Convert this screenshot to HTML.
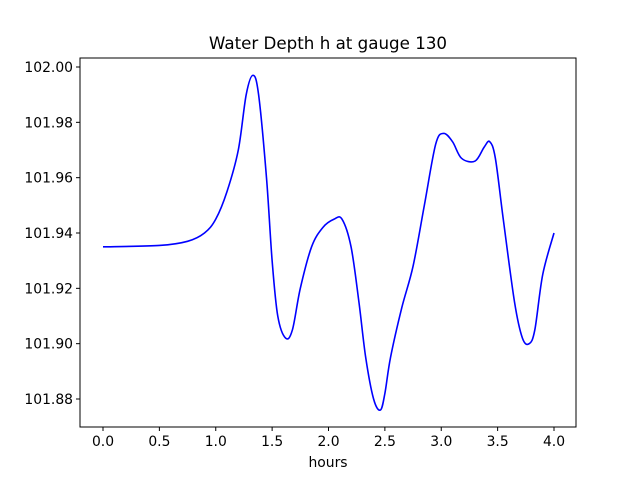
<!DOCTYPE html>
<html><head><meta charset="utf-8"><style>
body{margin:0;background:#fff;}
svg text{font-family:"DejaVu Sans","Liberation Sans",sans-serif;}
</style></head><body>
<svg id="chart" width="640" height="480" xmlns="http://www.w3.org/2000/svg">
<rect width="640" height="480" fill="#fff"/>
<text x="328" y="49" font-size="16.7" text-anchor="middle">Water Depth h at gauge 130</text>
<g id="ticks"></g>
<path id="line" fill="none" stroke="#0000ff" stroke-width="1.6"/>
<rect x="80" y="58" width="496" height="369" fill="none" stroke="#000" stroke-width="1"/>
<text x="328" y="467" font-size="13.9" text-anchor="middle">hours</text>
</svg>
<script>
const hours=[0,0.5,0.75,0.9,1.0,1.1,1.2,1.27,1.33,1.38,1.45,1.5,1.55,1.62,1.68,1.75,1.85,1.95,2.05,2.12,2.2,2.27,2.33,2.4,2.46,2.5,2.55,2.65,2.75,2.85,2.95,3.02,3.1,3.18,3.3,3.38,3.43,3.48,3.55,3.65,3.72,3.78,3.83,3.9,4.0];
const depth=[101.935,101.9355,101.937,101.940,101.945,101.955,101.970,101.99,101.997,101.99,101.96,101.93,101.91,101.902,101.905,101.92,101.935,101.942,101.945,101.945,101.935,101.915,101.895,101.88,101.876,101.882,101.895,101.913,101.928,101.95,101.972,101.976,101.973,101.967,101.966,101.971,101.973,101.967,101.945,101.915,101.902,101.900,101.905,101.925,101.940];
const xTicks=[0,0.5,1,1.5,2,2.5,3,3.5,4];
const xLabels=["0.0","0.5","1.0","1.5","2.0","2.5","3.0","3.5","4.0"];
const yTicks=[101.88,101.90,101.92,101.94,101.96,101.98,102.00];
const yLabels=["101.88","101.90","101.92","101.94","101.96","101.98","102.00"];
const X=v=>103+v*112.75;
const Y=v=>67+(102.0-v)*2766.7;
const ns="http://www.w3.org/2000/svg";
const g=document.getElementById('ticks');
function mk(t,a){const e=document.createElementNS(ns,t);for(const k in a)e.setAttribute(k,a[k]);g.appendChild(e);return e;}
xTicks.forEach((v,i)=>{
 const l=mk('line',{x1:X(v),x2:X(v),y1:427,y2:431,stroke:'#000'});
 
 
 const t=mk('text',{x:X(v),y:446,'font-size':13.9,'text-anchor':'middle'});t.textContent=xLabels[i];
 
 
});
yTicks.forEach((v,i)=>{
 const l=mk('line',{x1:76,x2:80,y1:Y(v),y2:Y(v),stroke:'#000'});
 
 
 const t=mk('text',{x:73,y:Y(v)+5,'font-size':13.9,'text-anchor':'end'});t.textContent=yLabels[i];
 
 
});
const p=hours.map((h,i)=>[X(h),Y(depth[i])]);
let d='M'+p[0][0]+','+p[0][1];
for(let i=0;i<p.length-1;i++){
 const p0=p[Math.max(0,i-1)],p1=p[i],p2=p[i+1],p3=p[Math.min(p.length-1,i+2)];
 const c1=[p1[0]+(p2[0]-p0[0])/6,p1[1]+(p2[1]-p0[1])/6];
 const c2=[p2[0]-(p3[0]-p1[0])/6,p2[1]-(p3[1]-p1[1])/6];
 d+=` C${c1[0]},${c1[1]} ${c2[0]},${c2[1]} ${p2[0]},${p2[1]}`;
}
document.getElementById('line').setAttribute('d',d);
</script>
</body></html>
